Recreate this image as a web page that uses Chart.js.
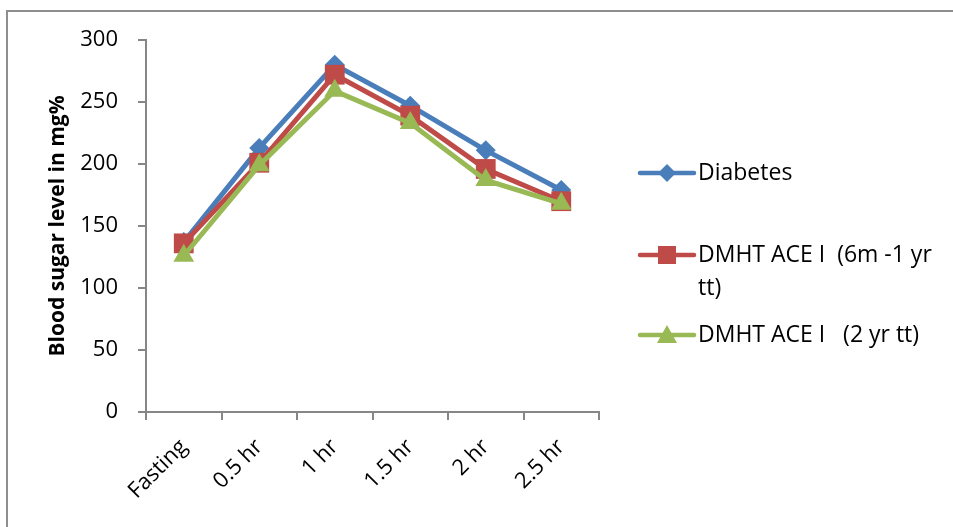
<!DOCTYPE html>
<html>
<head>
<meta charset="utf-8">
<script src="https://cdn.jsdelivr.net/npm/chart.js@4/dist/chart.umd.min.js"></script>
<style>
  html, body { margin: 0; padding: 0; background: #fff; overflow: hidden; }
  #wrap { position: relative; width: 953px; height: 527px; }
  #frame { position: absolute; left: 6px; top: 10px; width: 1000px; height: 600px;
           border-left: 2px solid #8e8e8e; border-top: 2px solid #8e8e8e; box-sizing: border-box; }
  canvas { position: absolute; left: 0; top: 0; }
</style>
</head>
<body>
<div id="wrap">
  <div id="frame"></div>
  <canvas id="c" width="953" height="527"></canvas>
</div>
<script>
// Time points of the glucose tolerance test
const timePoints = ['Fasting', '0.5 hr', '1 hr', '1.5 hr', '2 hr', '2.5 hr'];

// Mean blood sugar (mg%) per group
const diabetes   = [137, 213, 280, 247, 211, 179];
const aceShort   = [136, 201, 272, 239, 196, 170];
const aceLong    = [126, 199, 259, 233, 187, 168];

const seriesNames = ['Diabetes', 'DMHT ACE I  (6m -1 yr\ntt)', 'DMHT ACE I   (2 yr tt)'];
const yTicks = [0, 50, 100, 150, 200, 250, 300];

const FONT = '"Open Sans", "Liberation Sans", sans-serif';

// Legend drawn beside the plot, with wrapped labels
const sideLegend = {
  id: 'sideLegend',
  afterDraw(chart) {
    const ctx = chart.ctx;
    const rows = [173, 255, 335];
    const x0 = 640, x1 = 694, tx = 698;
    chart.data.datasets.forEach((ds, i) => {
      const y = rows[i];
      ctx.save();
      ctx.strokeStyle = ds.borderColor;
      ctx.lineWidth = 4.5;
      ctx.lineCap = 'round';
      ctx.beginPath(); ctx.moveTo(x0, y); ctx.lineTo(x1, y); ctx.stroke();
      ctx.fillStyle = ds.pointBackgroundColor;
      const cx = (x0 + x1) / 2;
      ctx.beginPath();
      if (ds.pointStyle === 'rectRot') {
        ctx.moveTo(cx, y - 9); ctx.lineTo(cx + 9, y); ctx.lineTo(cx, y + 9); ctx.lineTo(cx - 9, y);
      } else if (ds.pointStyle === 'rect') {
        ctx.rect(cx - 9, y - 9, 18, 18);
      } else {
        ctx.moveTo(cx, y - 10); ctx.lineTo(cx + 10, y + 8); ctx.lineTo(cx - 10, y + 8);
      }
      ctx.closePath(); ctx.fill();
      ctx.fillStyle = '#000';
      ctx.font = '23px ' + FONT;
      ctx.textBaseline = 'middle';
      ds.label.split('\n').forEach((line, k) => {
        ctx.fillText(line, tx, y + k * 33);
      });
      ctx.restore();
    });
  }
};

const common = { borderWidth: 5, pointHoverRadius: 12, pointBorderWidth: 0, tension: 0, fill: false };

new Chart(document.getElementById('c'), {
  type: 'line',
  data: {
    labels: timePoints,
    datasets: [
      { ...common, label: seriesNames[0], data: diabetes, borderColor: '#4A7EBB', backgroundColor: '#4A7EBB',
        pointBackgroundColor: '#4A7EBB', pointStyle: 'rectRot', pointRadius: 10, order: 3 },
      { ...common, label: seriesNames[1], data: aceShort, borderColor: '#BE4B48', backgroundColor: '#BE4B48',
        pointBackgroundColor: '#BE4B48', pointStyle: 'rect', pointRadius: 14, order: 2 },
      { ...common, label: seriesNames[2], data: aceLong, borderColor: '#98B954', backgroundColor: '#98B954',
        pointBackgroundColor: '#98B954', pointStyle: 'triangle', pointRadius: 12, order: 1 }
    ]
  },
  options: {
    responsive: false,
    animation: false,
    layout: { padding: { left: 45, top: 40, right: 354, bottom: 0 } },
    plugins: { legend: { display: false }, tooltip: { enabled: false } },
    scales: {
      x: {
        offset: true,
        grid: { offset: true, drawOnChartArea: false, drawTicks: true, tickLength: 8, color: '#868686', lineWidth: 2 },
        border: { color: '#868686', width: 2 },
        ticks: { color: '#000', font: { family: FONT, size: 22 }, maxRotation: 45, minRotation: 45, padding: 14 },
        afterFit(scale) { scale.height = 115; }
      },
      y: {
        min: 0, max: 300,
        afterBuildTicks(scale) { scale.ticks = yTicks.map(v => ({ value: v })); },
        grid: { drawOnChartArea: false, drawTicks: true, tickLength: 8, color: '#868686', lineWidth: 2 },
        border: { color: '#868686', width: 2 },
        ticks: { color: '#000', font: { family: FONT, size: 22 }, padding: 20 },
        title: { display: true, text: 'Blood sugar level in mg%', color: '#000',
                 font: { family: FONT, size: 21, weight: 'bold' }, padding: 0 },
        afterFit(scale) { scale.width = 101; }
      }
    }
  },
  plugins: [sideLegend]
});
</script>
</body>
</html>
